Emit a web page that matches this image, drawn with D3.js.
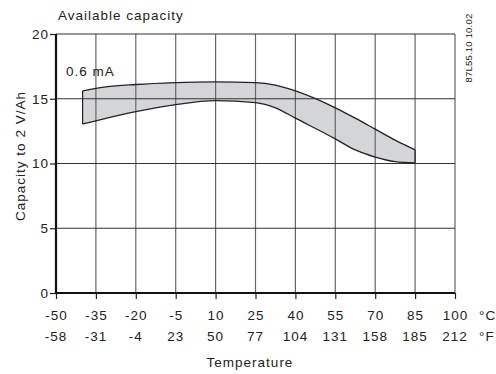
<!DOCTYPE html>
<html>
<head>
<meta charset="utf-8">
<script src="https://cdn.jsdelivr.net/npm/d3@7"></script>
<style>
  body { margin: 0; background: #fff; }
  text { font-family: "Liberation Sans", Arial, sans-serif; fill: #222; font-size: 13.5px; letter-spacing: 1px; }
</style>
</head>
<body>
<svg id="chart" width="496" height="374"></svg>
<script>
var temps = [-40, -35, -20, -5, 10, 25, 32.5, 40, 55, 62.5, 70, 77.5, 85];
// upper and lower edge of the 0.6 mA band (capacity to 2 V / Ah)
var upper = [15.6, 15.8, 16.1, 16.25, 16.3, 16.25, 16.05, 15.6, 14.3, 13.5, 12.65, 11.8, 11.05];
var lower = [13.05, 13.3, 14.0, 14.55, 14.85, 14.7, 14.3, 13.5, 11.9, 11.05, 10.5, 10.15, 10.05];
// tick labels
var celsius = [-50, -35, -20, -5, 10, 25, 40, 55, 70, 85, 100];
var fahrenheit = [-58, -31, -4, 23, 50, 77, 104, 131, 158, 185, 212];
var yTicks = [0, 5, 10, 15, 20];

var svg = d3.select("#chart");
var x = d3.scaleLinear().domain([-50, 100]).range([56, 455]);
var y = d3.scaleLinear().domain([0, 20]).range([293, 34]);

var band = temps.map(function(t, i) { return {t: t, hi: upper[i], lo: lower[i]}; });

// band fill
var area = d3.area()
  .x(function(d) { return x(d.t); })
  .y0(function(d) { return y(d.lo); })
  .y1(function(d) { return y(d.hi); })
  .curve(d3.curveMonotoneX);
svg.append("path").datum(band)
  .attr("d", area)
  .attr("fill", "#d4d5d7");

// grid
svg.selectAll(".vgrid").data(celsius.slice(1))
  .enter().append("line")
  .attr("class", "vgrid")
  .attr("x1", function(d) { return x(d); })
  .attr("x2", function(d) { return x(d); })
  .attr("y1", y(20)).attr("y2", y(0))
  .attr("stroke", "#666").attr("stroke-width", 1.2);
svg.selectAll(".hgrid").data(yTicks.slice(1))
  .enter().append("line")
  .attr("class", "hgrid")
  .attr("x1", x(-50)).attr("x2", x(100))
  .attr("y1", function(d) { return y(d); })
  .attr("y2", function(d) { return y(d); })
  .attr("stroke", "#333").attr("stroke-width", 1.1);

// band edges
var lineHi = d3.line().x(function(d) { return x(d.t); }).y(function(d) { return y(d.hi); }).curve(d3.curveMonotoneX);
var lineLo = d3.line().x(function(d) { return x(d.t); }).y(function(d) { return y(d.lo); }).curve(d3.curveMonotoneX);
svg.append("path").datum(band).attr("d", lineHi)
  .attr("fill", "none").attr("stroke", "#222").attr("stroke-width", 1.3);
svg.append("path").datum(band).attr("d", lineLo)
  .attr("fill", "none").attr("stroke", "#222").attr("stroke-width", 1.3);
// left and right closing edges of the band
[band[0], band[band.length - 1]].forEach(function(d) {
  svg.append("line")
    .attr("x1", x(d.t)).attr("x2", x(d.t))
    .attr("y1", y(d.hi)).attr("y2", y(d.lo))
    .attr("stroke", "#222").attr("stroke-width", 1.2);
});

// axes
var yAxis = d3.axisLeft(y).tickValues(yTicks).tickSize(6).tickFormat(String);
var gy = svg.append("g").attr("transform", "translate(" + x(-50) + ",0)").call(yAxis);
gy.select(".domain").remove();
gy.selectAll(".tick line").attr("stroke", "#222").attr("stroke-width", 1.2);
gy.selectAll(".tick text").attr("x", -7).attr("fill", "#222");

var xAxis = d3.axisBottom(x).tickValues(celsius).tickSize(6).tickFormat(String);
var gx = svg.append("g").attr("transform", "translate(0," + y(0) + ")").call(xAxis);
gx.select(".domain").remove();
gx.selectAll(".tick line").attr("stroke", "#222").attr("stroke-width", 1.2);
gx.selectAll(".tick text").attr("y", 27).attr("dy", null).attr("fill", "#222");
gy.attr("font-family", null).attr("font-size", null);
gx.attr("font-family", null).attr("font-size", null);

// fahrenheit row
svg.selectAll(".fTick").data(fahrenheit)
  .enter().append("text")
  .attr("class", "fTick")
  .attr("x", function(d, i) { return x(celsius[i]); })
  .attr("y", 341)
  .attr("text-anchor", "middle")
  .text(function(d) { return d; });

// thick axis lines
svg.append("line").attr("x1", x(-50)).attr("x2", x(-50)).attr("y1", y(20)).attr("y2", y(0) + 1)
  .attr("stroke", "#111").attr("stroke-width", 2.2);
svg.append("line").attr("x1", x(-50)).attr("x2", x(100)).attr("y1", y(0)).attr("y2", y(0))
  .attr("stroke", "#111").attr("stroke-width", 2.2);

// unit labels
svg.append("text").attr("x", 479).attr("y", 320).text("°C");
svg.append("text").attr("x", 479).attr("y", 341).text("°F");

// titles
svg.append("text").attr("x", 58).attr("y", 19.5).text("Available capacity");
svg.append("text").attr("x", 66).attr("y", 76).text("0.6 mA");
svg.append("text").attr("x", 250).attr("y", 366.5).attr("text-anchor", "middle")
  .text("Temperature");
svg.append("text")
  .attr("transform", "translate(25,156) rotate(-90)")
  .attr("text-anchor", "middle")
  .text("Capacity to 2 V/Ah");
svg.append("text")
  .attr("transform", "translate(472,48) rotate(-90)")
  .attr("text-anchor", "middle")
  .style("font-size", "9.5px").style("letter-spacing", "0.2px")
  .text("87L55.10 10.02");
</script>
</body>
</html>
